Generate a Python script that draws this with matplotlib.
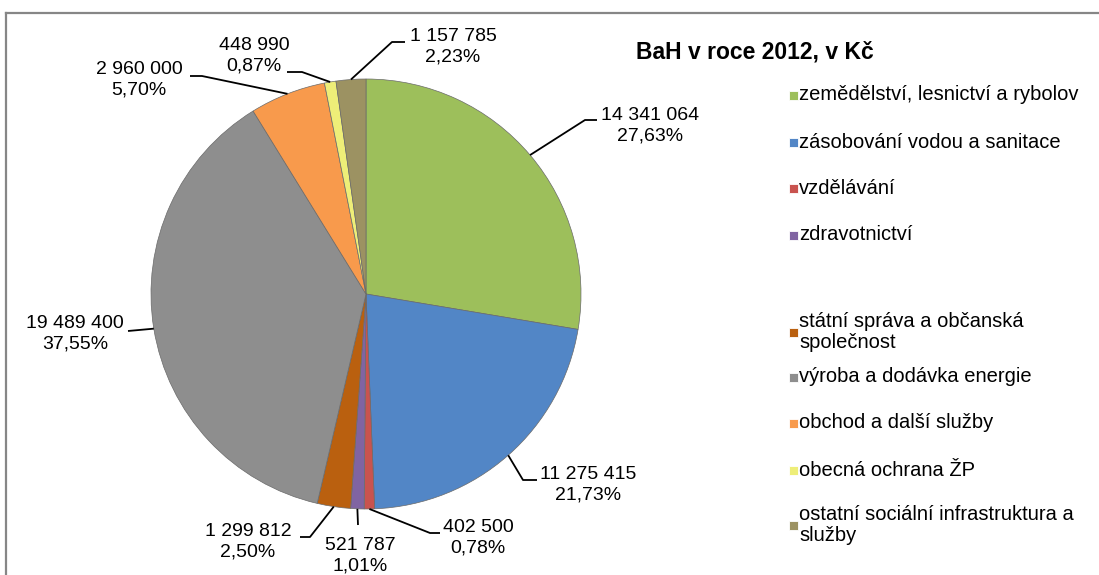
import numpy as np
import matplotlib.pyplot as plt
from matplotlib.patches import Rectangle
from matplotlib.lines import Line2D

plt.rcParams['font.family'] = ['Liberation Sans', 'DejaVu Sans']

# data
sektory = ["zemědělství, lesnictví a rybolov",
           "zásobování vodou a sanitace",
           "vzdělávání",
           "zdravotnictví",
           "státní správa a občanská\nspolečnost",
           "výroba a dodávka energie",
           "obchod a další služby",
           "obecná ochrana ŽP",
           "ostatní sociální infrastruktura a\nslužby"]
castky = [14341064, 11275415, 402500, 521787, 1299812, 19489400, 2960000, 448990, 1157785]
barvy = ["#9DBF5B", "#5286C6", "#C9534F", "#8064A2", "#BA600F",
         "#8E8E8E", "#F89A4C", "#EEEE78", "#9C9262"]
titulek = "BaH v roce 2012, v Kč"

W, H = 1099, 575
fig = plt.figure(figsize=(W / 100, H / 100), dpi=100)
ax = fig.add_axes([0, 0, 1, 1])

cx, cy, r = 366, 294, 215
wedges, _ = ax.pie(castky, colors=barvy, startangle=90, counterclock=False,
                   center=(cx, H - cy), radius=r,
                   wedgeprops=dict(edgecolor="#6a6a6a", linewidth=0.5))
ax.set_xlim(0, W)
ax.set_ylim(0, H)
ax.set_aspect('equal')
ax.axis('off')

# label layout (pixels from top-left): text centre, elbow, line end
text_pos = [(650, 126), (588, 485), (478, 538), (360, 556), (248, 542),
            (75, 334), (139, 80), (254, 56), (453, 47)]
elbows = [[(585, 120), (597, 120)],
          [(523, 480), (537, 480)],
          [(430, 533), (440, 533)],
          [(358, 525)],
          [(310, 537), (300, 537)],
          [(128, 331)],
          [(202, 76), (190, 76)],
          [(302, 72), (287, 72)],
          [(392, 42), (405, 42)]]

total = sum(castky)
for w, v, tp, el in zip(wedges, castky, text_pos, elbows):
    ang = np.deg2rad((w.theta1 + w.theta2) / 2)
    sx = cx + r * np.cos(ang)
    sy = (H - cy) + r * np.sin(ang)
    xs = [sx] + [p[0] for p in el]
    ys = [sy] + [H - p[1] for p in el]
    ax.plot(xs, ys, color="black", lw=1.3, solid_capstyle='butt')
    hodnota = "{:,}".format(v).replace(",", " ")
    pct = "{:.2f}%".format(100 * v / total).replace(".", ",")
    ax.text(tp[0], H - tp[1], hodnota + "\n" + pct, ha='center', va='center',
            fontsize=14, linespacing=1.3)

# title + legend
ax.text(636, H - 58, titulek, ha='left', va='baseline', fontsize=16.5, fontweight='bold')
leg_y = [95, 142, 188, 235, 332, 377, 423, 470, 525]
for lab, c, y in zip(sektory, barvy, leg_y):
    ax.add_patch(Rectangle((789, H - y - 4.5), 9, 9, facecolor=c, edgecolor="#ffffff", lw=0.6))
    ax.text(799, H - y, lab, ha='left', va='center', fontsize=14.5, linespacing=1.08)

# frame lines (top and left)
fig.add_artist(Line2D([6 / W, 1], [1 - 13 / H, 1 - 13 / H], color="#868686", lw=1.6))
fig.add_artist(Line2D([6 / W, 6 / W], [0, 1 - 13 / H], color="#868686", lw=1.6))

fig.savefig("out.png", dpi=100)
